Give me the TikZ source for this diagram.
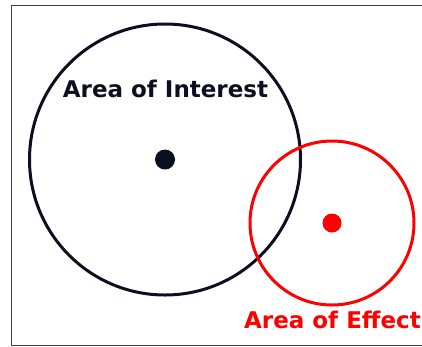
\documentclass[tikz,border=0pt]{standalone}
\usepackage{fontspec}
\setmainfont{DejaVu Sans}
\usepackage{tikz}
\usetikzlibrary{positioning}
\definecolor{aoiblack}{HTML}{0B1020}
\definecolor{aoered}{HTML}{FF0000}
\definecolor{framegray}{HTML}{404040}

\begin{document}
\begin{tikzpicture}[
    x=1pt, y=-1pt,
    area/.style={draw=#1, circle, line width=3pt, inner sep=0pt},
    centre/.style={fill=#1, circle, inner sep=0pt, minimum size=20pt},
    label/.style={font=\fontsize{23}{27}\selectfont\bfseries, text=#1, inner sep=0pt}
]
    \useasboundingbox (0,0) rectangle (422,346);

    % Frame
    \draw[framegray, line width=1pt] (422,5.5) -- (11,5.5) -- (11,345) -- (422,345);

    % Area of interest
    \node[area=aoiblack, minimum size=271pt] (interest) at (165,159.5) {};
    \node[centre=aoiblack] (interestdot) at (interest.center) {};
    \node[label=aoiblack] (interestlabel) at (165.5,88.5) {Area of Interest};

    % Area of effect
    \node[area=aoered, minimum size=164pt] (effect) at (332,223) {};
    \node[centre=aoered, minimum size=19pt] (effectdot) at (effect.center) {};
    \node[label=aoered] (effectlabel) at (332.5,319.5) {Area of Effect};
\end{tikzpicture}
\end{document}
